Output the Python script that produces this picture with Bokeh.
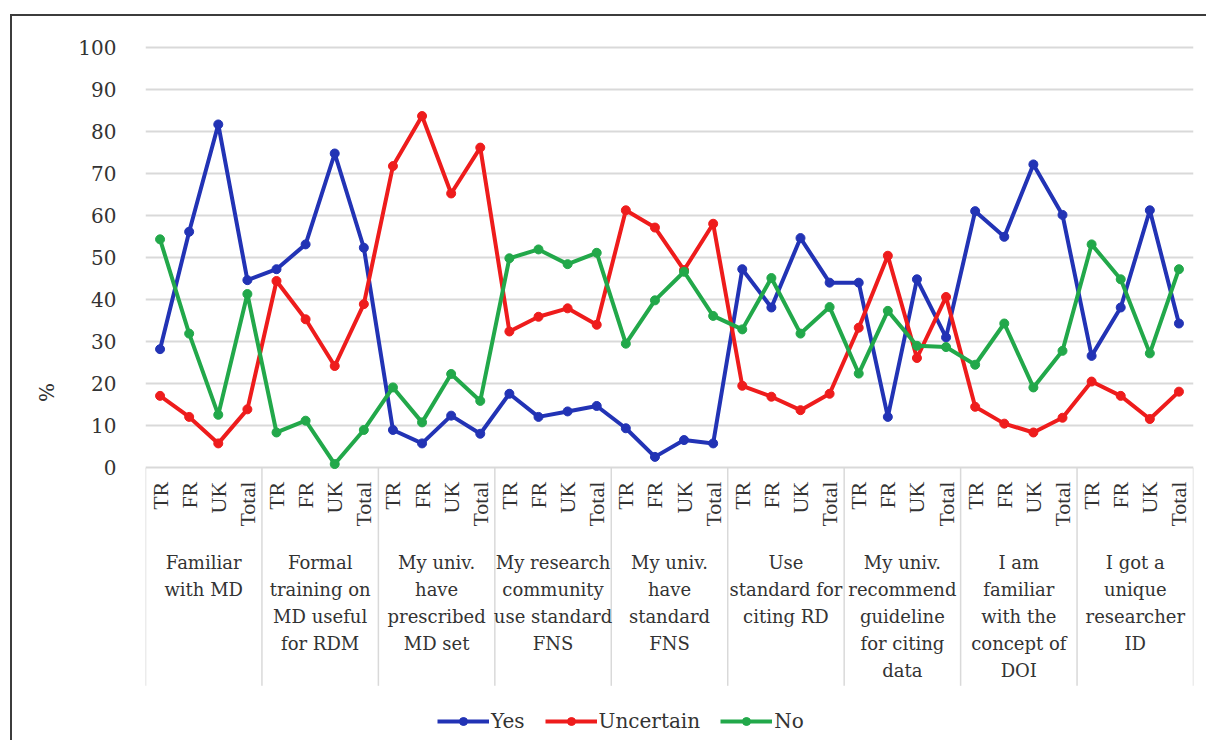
from bokeh.plotting import figure
from bokeh.models import FactorRange, Range1d, ColumnDataSource, Legend, LegendItem, FixedTicker
from bokeh.core.properties import value
from bokeh.embed import file_html
from bokeh.resources import INLINE

# ---- data ----
groups = [
    "Familiar\nwith MD",
    "Formal\ntraining on\nMD useful\nfor RDM",
    "My univ.\nhave\nprescribed\nMD set",
    "My research\ncommunity\nuse standard\nFNS",
    "My univ.\nhave\nstandard\nFNS",
    "Use\nstandard for\nciting RD",
    "My univ.\nrecommend\nguideline\nfor citing\ndata",
    "I am\nfamiliar\nwith the\nconcept of\nDOI",
    "I got a\nunique\nresearcher\nID",
]
subgroups = ["TR", "FR", "UK", "Total"]

yes = [28.2, 56.1, 81.6, 44.6,
       47.2, 53.1, 74.7, 52.3,
       9.0, 5.8, 12.4, 8.1,
       17.6, 12.1, 13.4, 14.7,
       9.4, 2.6, 6.6, 5.8,
       47.2, 38.1, 54.6, 44.0,
       44.0, 12.1, 44.8, 31.0,
       61.0, 54.9, 72.1, 60.1,
       26.6, 38.1, 61.2, 34.3]
uncertain = [17.1, 12.1, 5.8, 13.9,
             44.4, 35.3, 24.2, 38.9,
             71.7, 83.6, 65.2, 76.1,
             32.4, 35.9, 37.9, 34.0,
             61.2, 57.1, 47.0, 58.0,
             19.5, 16.9, 13.7, 17.6,
             33.3, 50.4, 26.1, 40.6,
             14.5, 10.5, 8.4, 11.9,
             20.5, 17.1, 11.6, 18.1]
no = [54.3, 31.9, 12.6, 41.3,
      8.4, 11.2, 0.9, 9.0,
      19.1, 10.8, 22.3, 15.9,
      49.8, 51.9, 48.4, 51.1,
      29.5, 39.8, 46.6, 36.1,
      32.9, 45.1, 31.9, 38.2,
      22.4, 37.3, 29.0, 28.7,
      24.5, 34.3, 19.1, 27.8,
      53.1, 44.8, 27.2, 47.2]

y_ticks = list(range(0, 101, 10))
series_names = ["Yes", "Uncertain", "No"]
series_colors = ["#2233B5", "#EE1C1C", "#22A84A"]

# ---- layout constants ----
FONT = "DejaVu Serif"
SUB_FONT = "Liberation Serif"
Y_MIN = -64.8
SEP_BOTTOM = -51.8
SUB_Y = -3.3
GROUP_Y = -20.0

factors = [(g, s) for g in groups for s in subgroups]
x_range = FactorRange(*factors, group_padding=0, factor_padding=0, range_padding=0)

p = figure(x_range=x_range, y_range=Range1d(Y_MIN, 100.6),
           frame_width=1048, frame_height=696,
           min_border_left=133, min_border_top=28, min_border_right=13, min_border_bottom=0,
           output_backend="svg", toolbar_location=None)
p.styles = {"border-left": "2px solid #3c3c3c", "border-top": "2px solid #3c3c3c",
            "margin-left": "10px", "margin-top": "14px"}

p.outline_line_color = None
p.background_fill_color = "white"
p.border_fill_color = "white"
p.xaxis.visible = False
p.xgrid.grid_line_color = None

p.yaxis.ticker = FixedTicker(ticks=y_ticks)
p.ygrid.ticker = FixedTicker(ticks=y_ticks)
p.ygrid.grid_line_color = "#d9d9d9"
p.ygrid.grid_line_width = 2
p.yaxis.axis_line_color = None
p.yaxis.major_tick_line_color = None
p.yaxis.minor_tick_line_color = None
p.yaxis.major_label_text_font = FONT
p.yaxis.major_label_text_font_size = "20px"
p.yaxis.major_label_text_color = "#333333"
p.yaxis.major_label_standoff = 23
p.yaxis.axis_label = "%"
p.yaxis.axis_label_text_font = FONT
p.yaxis.axis_label_text_font_size = "20px"
p.yaxis.axis_label_text_font_style = "normal"
p.yaxis.axis_label_text_color = "#333333"
p.yaxis.axis_label_standoff = 16

# separators between groups
sep_x = [(g, subgroups[0], -0.5) for g in groups] + [(groups[-1], subgroups[-1], 0.5)]
sep_src = ColumnDataSource(dict(x=sep_x, y0=[0] * len(sep_x), y1=[SEP_BOTTOM] * len(sep_x)))
p.segment(x0="x", y0="y0", x1="x", y1="y1", source=sep_src, line_color="#d9d9d9", line_width=1.5)

# subgroup labels (vertical)
sub_src = ColumnDataSource(dict(x=factors, y=[SUB_Y] * len(factors), t=[s for g in groups for s in subgroups]))
p.text(x="x", y="y", text="t", source=sub_src, angle=1.5707963, text_align="right",
       text_baseline="middle", text_font=value(SUB_FONT), text_font_size="22px", text_color="#333333")

# group labels
grp_src = ColumnDataSource(dict(x=groups, y=[GROUP_Y] * len(groups), t=groups))
p.text(x="x", y="y", text="t", source=grp_src, text_align="center", text_baseline="top",
       text_font=value(FONT), text_font_size="18px", text_color="#333333", text_line_height=1.29)

# series
src = ColumnDataSource(dict(x=factors, Yes=yes, Uncertain=uncertain, No=no))
items = []
for name, col in zip(series_names, series_colors):
    lr = p.line(x="x", y=name, source=src, line_color=col, line_width=4)
    cr = p.scatter(x="x", y=name, source=src, marker="circle", size=9, fill_color=col, line_color=col)
    items.append(LegendItem(label=name, renderers=[lr, cr]))

legend = Legend(items=items, orientation="horizontal", location=(292, 7),
                label_text_font=FONT, label_text_font_size="20px", label_text_color="#333333",
                glyph_width=52, glyph_height=20, label_standoff=2, spacing=20,
                padding=4, margin=0, border_line_color=None, background_fill_alpha=0)
p.add_layout(legend)

open("out.html", "w").write(file_html(p, INLINE))
